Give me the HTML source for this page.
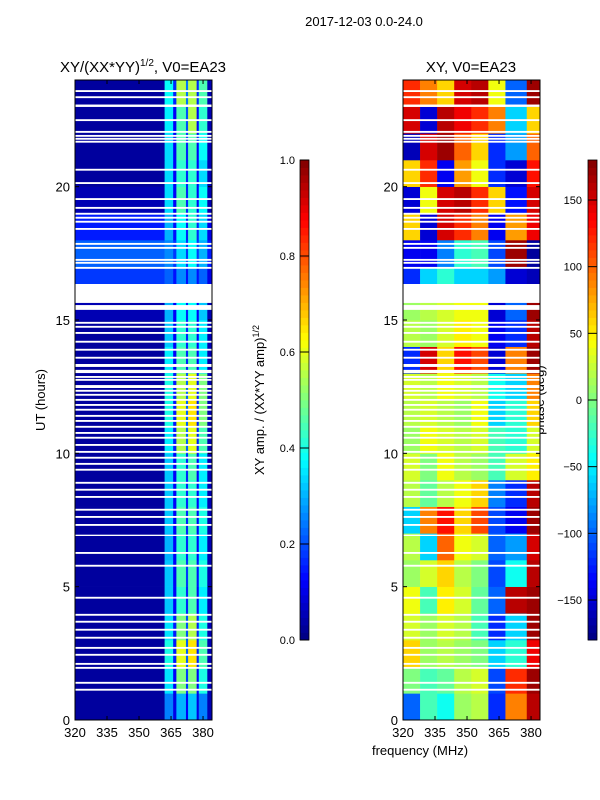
<!DOCTYPE html>
<html><head><meta charset="utf-8">
<style>
html,body{margin:0;padding:0;background:#fff;}
svg{display:block;font-family:"Liberation Sans","DejaVu Sans",sans-serif;}
</style></head>
<body>
<svg id="fig" width="600" height="800" viewBox="0 0 600 800" xmlns="http://www.w3.org/2000/svg">
<rect x="0" y="0" width="600" height="800" fill="#fff"/>
<text x="364" y="26" font-size="13" text-anchor="middle">2017-12-03 0.0-24.0</text>
<text x="143" y="72" font-size="15" text-anchor="middle">XY/(XX*YY)<tspan font-size="10" dy="-6">1/2</tspan><tspan dy="6">, V0=EA23</tspan></text>
<text x="471" y="72" font-size="15" text-anchor="middle">XY, V0=EA23</text>
<text transform="translate(45,400) rotate(-90)" font-size="13" text-anchor="middle">UT (hours)</text>
<text x="420" y="755" font-size="13" text-anchor="middle">frequency (MHz)</text>
<text transform="translate(264,400) rotate(-90)" font-size="13" text-anchor="middle">XY amp. / (XX*YY amp)<tspan font-size="9" dy="-5">1/2</tspan></text>
<text transform="translate(544,400) rotate(-90)" font-size="13" text-anchor="middle">phase (deg)</text>
<g id="layer"></g>
</svg>
<script>
// ---- data ----
const utMin = 0, utMax = 24;
const fMin = 320, fMax = 384.2;
const freqTicks = [320, 335, 350, 365, 380];
const utTicks = [0, 5, 10, 15, 20];
const ampTicks = [0.0, 0.2, 0.4, 0.6, 0.8, 1.0];
const phaseTicks = [-150, -100, -50, 0, 50, 100, 150];
const ampFreqEdges = [320, 362, 366, 367.5, 372, 373, 377, 378, 382, 384.2];
const ampValues = [
[0.03,0.25,0.1,0.3,0.12,0.32,0.1,0.25,0.05],
[0.03,0.35,0.12,0.5,0.18,0.5,0.12,0.4,0.05],
[0.03,0.4,0.15,0.6,0.22,0.65,0.15,0.45,0.05],
[0.03,0.35,0.15,0.5,0.2,0.55,0.15,0.4,0.05],
[0.03,0.32,0.12,0.42,0.16,0.45,0.12,0.36,0.05],
[0.03,0.32,0.12,0.45,0.18,0.45,0.14,0.4,0.05],
[0.03,0.3,0.12,0.42,0.16,0.42,0.12,0.36,0.05],
[0.03,0.32,0.12,0.45,0.16,0.45,0.12,0.4,0.05],
[0.03,0.32,0.12,0.42,0.16,0.42,0.12,0.36,0.05],
[0.03,0.32,0.12,0.42,0.16,0.45,0.12,0.36,0.05],
[0.03,0.36,0.15,0.55,0.22,0.6,0.15,0.45,0.05],
[0.03,0.4,0.15,0.6,0.22,0.65,0.15,0.5,0.05],
[0.03,0.4,0.15,0.55,0.22,0.6,0.15,0.5,0.05],
[0.03,0.36,0.12,0.45,0.16,0.45,0.12,0.36,0.05],
[0.03,0.32,0.12,0.42,0.16,0.42,0.12,0.36,0.05],
[0.05,0.3,0.12,0.38,0.16,0.38,0.12,0.32,0.05],
[0.18,0.22,0.14,0.26,0.14,0.26,0.14,0.22,0.1],
[0.22,0.26,0.18,0.34,0.18,0.38,0.18,0.3,0.15],
[0.15,0.3,0.14,0.38,0.16,0.42,0.16,0.34,0.1],
[0.05,0.34,0.12,0.45,0.16,0.42,0.12,0.38,0.05],
[0.03,0.34,0.12,0.42,0.16,0.42,0.12,0.34,0.05],
[0.03,0.34,0.12,0.45,0.16,0.45,0.12,0.38,0.05],
[0.03,0.36,0.12,0.45,0.2,0.55,0.12,0.42,0.05],
[0.03,0.38,0.16,0.55,0.24,0.55,0.16,0.45,0.05]
];
const phaseFreqEdges = [320, 328, 336, 344, 352, 360, 368, 378, 384.2];
const phaseValues = [
[-100,-20,-40,10,20,-120,90,160],
[0,-20,-10,20,30,-110,120,170],
[60,10,20,10,0,-60,-30,140],
[30,10,30,20,-20,-120,-60,170],
[40,-20,50,30,-10,-100,160,170],
[10,30,60,20,0,-110,-40,160],
[20,-60,100,40,30,-100,-80,150],
[-60,90,130,60,110,-110,-140,170],
[20,-10,20,40,60,-90,-120,160],
[30,0,40,20,10,-20,30,50],
[10,40,30,20,30,-20,-30,30],
[20,30,20,10,40,-60,-30,60],
[30,20,40,30,20,-40,-60,90],
[-120,150,60,130,110,-150,90,170],
[20,10,30,50,40,-140,-120,160],
[10,20,30,40,40,-150,-100,170],
[-120,-60,-30,-60,-60,-80,-150,-160],
[-140,-140,-90,-30,-20,-110,170,-170],
[60,-150,150,120,90,-140,80,140],
[-150,40,150,160,120,60,-130,150],
[60,120,-140,80,40,-120,-150,130],
[-160,150,170,100,60,-120,-80,100],
[150,-150,160,140,120,90,-60,60],
[120,90,60,150,160,40,-100,170]
];
const flagStart = [23.55,23.32,22.99,22.46,22.02,21.87,21.76,21.65,20.6,20.1,19.5,19.17,18.95,18.8,18.65,18.38,17.82,17.67,17.22,17.11,16.92,15.64,15.38,14.86,14.71,14.48,14.15,13.85,13.55,13.24,13.01,12.83,12.72,12.45,12.31,12.16,11.97,11.78,11.6,11.37,11.18,10.96,10.73,10.55,10.28,10.02,9.8,9.57,9.35,8.86,8.6,8.33,7.85,7.58,7.28,6.9,6.23,5.75,4.55,3.91,3.65,3.35,3.05,2.67,2.41,2.07,1.92,1.36,1.1];
const flagEnd   = [23.62,23.39,23.08,22.53,22.09,21.94,21.83,21.72,20.67,20.17,19.57,19.24,19.02,18.87,18.72,18.45,17.89,17.74,17.29,17.18,16.99,16.35,15.56,14.93,14.78,14.55,14.22,13.92,13.62,13.35,13.13,12.9,12.79,12.56,12.38,12.23,12.04,11.85,11.67,11.44,11.25,11.03,10.8,10.62,10.35,10.09,9.87,9.64,9.42,8.93,8.67,8.4,7.92,7.65,7.35,6.95,6.3,5.82,4.62,3.98,3.72,3.42,3.12,2.74,2.48,2.14,1.99,1.43,1.17];

// ---- layout ----
const NS = "http://www.w3.org/2000/svg";
const layer = document.getElementById('layer');
const panels = [{x0:75, x1:212, kind:'amp'}, {x0:403, x1:540, kind:'phase'}];
const pyTop = 80, pyBot = 720;
function yScale(ut){ return pyBot - (ut - utMin) / (utMax - utMin) * (pyBot - pyTop); }
function xScale(p, f){ return p.x0 + (f - fMin) / (fMax - fMin) * (p.x1 - p.x0); }
function jet(v){
  v = Math.max(0, Math.min(1, v));
  const r = Math.max(0, Math.min(1, 1.5 - Math.abs(4*v - 3)));
  const g = Math.max(0, Math.min(1, 1.5 - Math.abs(4*v - 2)));
  const b = Math.max(0, Math.min(1, 1.5 - Math.abs(4*v - 1)));
  return 'rgb(' + Math.round(r*255) + ',' + Math.round(g*255) + ',' + Math.round(b*255) + ')';
}
function mk(tag, attrs, parent){
  const e = document.createElementNS(NS, tag);
  for (const k in attrs) e.setAttribute(k, attrs[k]);
  (parent || layer).appendChild(e);
  return e;
}

panels.forEach(function(p){
  const g = mk('g', {});
  
  
  const edges = p.kind === 'amp' ? ampFreqEdges : phaseFreqEdges;
  const vals = p.kind === 'amp' ? ampValues : phaseValues;
  for (let r = 0; r < vals.length; r++){
    const yA = yScale(r + 1), yB = yScale(r);
    for (let c = 0; c < edges.length - 1; c++){
      const xA = xScale(p, edges[c]), xB = xScale(p, edges[c+1]);
      const v = p.kind === 'amp' ? vals[r][c] : (vals[r][c] + 180) / 360;
      const cell = mk('rect', {x:xA, y:yA, width:(xB-xA)+0.3, height:(yB-yA)+0.3, fill:jet(v)}, g);
      
      
    }
  }
  for (let i = 0; i < flagStart.length; i++){
    const ya = yScale(flagEnd[i]), yb = yScale(flagStart[i]);
    const fl = mk('rect', {x:p.x0, y:ya, width:p.x1-p.x0, height:Math.max(1, yb-ya), fill:'#fff'}, g);
    
    
  }
  const frame = mk('rect', {x:p.x0, y:pyTop, width:p.x1-p.x0, height:pyBot-pyTop, fill:'none', stroke:'#000', 'stroke-width':1});
  
  
  freqTicks.forEach(function(f){
    const x = xScale(p, f);
    mk('line', {x1:x, x2:x, y1:pyBot, y2:pyBot-4, stroke:'#000'});
    mk('line', {x1:x, x2:x, y1:pyTop, y2:pyTop+4, stroke:'#000'});
    const t = mk('text', {x:x, y:737, 'font-size':13, 'text-anchor':'middle'});
    t.textContent = f;
    
    
  });
  utTicks.forEach(function(u){
    const y = yScale(u);
    mk('line', {x1:p.x0, x2:p.x0+4, y1:y, y2:y, stroke:'#000'});
    mk('line', {x1:p.x1, x2:p.x1-4, y1:y, y2:y, stroke:'#000'});
    const t = mk('text', {x:p.x0-5, y:y+5, 'font-size':13, 'text-anchor':'end'});
    t.textContent = u;
    
    
  });
});

// ---- colorbars ----
const cbTop = 160, cbBot = 640;
function colorbar(x0, w, kind){
  const g = mk('g', {});
  
  
  const n = 64;
  for (let i = 0; i < n; i++){
    const v = (i + 0.5) / n;
    const ya = cbBot - (i+1)/n*(cbBot-cbTop);
    mk('rect', {x:x0, y:ya, width:w, height:(cbBot-cbTop)/n+0.4, fill:jet(v)}, g);
  }
  mk('rect', {x:x0, y:cbTop, width:w, height:cbBot-cbTop, fill:'none', stroke:'#000', 'stroke-width':0.8}, g);
}
colorbar(300, 9, 'amp');
colorbar(588, 9, 'phase');
ampTicks.forEach(function(a){
  const y = cbBot - a * (cbBot - cbTop);
  mk('line', {x1:300, x2:309, y1:y, y2:y, stroke:'#000'});
  const t = mk('text', {x:295, y:y+4, 'font-size':11, 'text-anchor':'end'});
  t.textContent = a.toFixed(1);
  
  
});
phaseTicks.forEach(function(d){
  const y = cbBot - (d + 180) / 360 * (cbBot - cbTop);
  mk('line', {x1:588, x2:597, y1:y, y2:y, stroke:'#000'});
  const t = mk('text', {x:582, y:y+4, 'font-size':11, 'text-anchor':'end'});
  t.textContent = d < 0 ? '\u2212' + Math.abs(d) : d;
  
  
});
</script>
</body></html>
